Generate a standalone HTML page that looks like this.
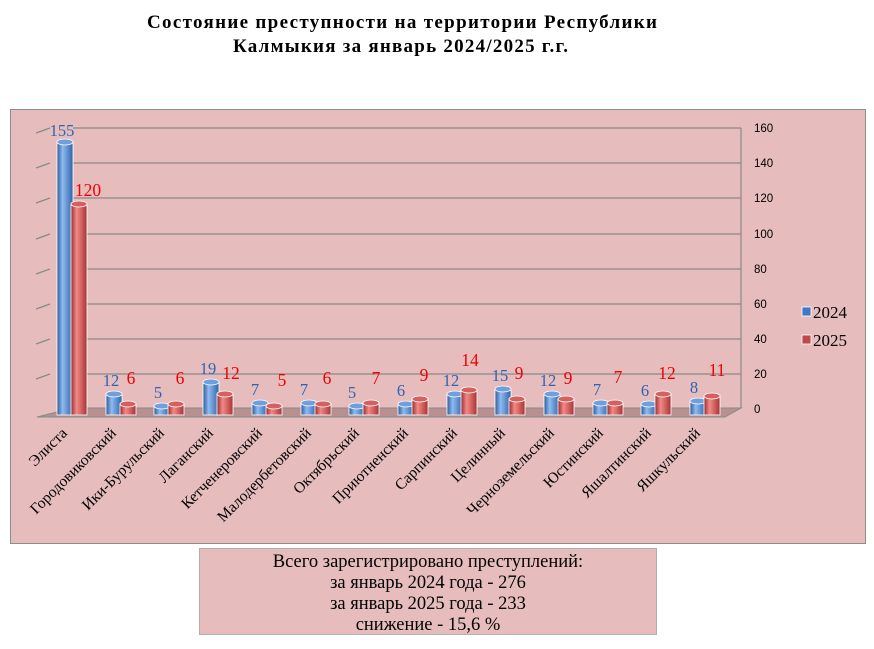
<!DOCTYPE html>
<html><head><meta charset="utf-8"><style>
html,body{margin:0;padding:0;background:#fff;width:874px;height:649px;overflow:hidden}
svg{display:block}
</style></head><body>
<svg width="874" height="649" viewBox="0 0 874 649" xmlns="http://www.w3.org/2000/svg">
<defs>
<linearGradient id="gb" x1="0" x2="1" y1="0" y2="0"><stop offset="0" stop-color="#2c5a98"/><stop offset="0.35" stop-color="#8fbaf0"/><stop offset="1" stop-color="#2f62a8"/></linearGradient>
<linearGradient id="gr" x1="0" x2="1" y1="0" y2="0"><stop offset="0" stop-color="#9a2b2b"/><stop offset="0.35" stop-color="#f28a86"/><stop offset="1" stop-color="#a83434"/></linearGradient>
</defs>
<g font-family="Liberation Serif, serif" font-weight="bold" font-size="19" fill="#000">
<text x="147" y="28" textLength="510" lengthAdjust="spacing">Состояние преступности  на территории   Республики</text>
<text x="233" y="52" textLength="335" lengthAdjust="spacing">Калмыкия  за январь  2024/2025 г.г.</text>
</g>
<rect x="10.5" y="109.5" width="855" height="434" fill="#e6bcbd" stroke="#8c8c8c"/>
<rect x="199.5" y="548.5" width="457" height="86" fill="#e6bcbd" stroke="#b0b0b0"/>
<g stroke="#8a8a8a" stroke-width="1.2" fill="none">
<path d="M73 128H741M73 163H741M73 198H741M73 234H741M73 269H741M73 304H741M73 339H741M73 374H741M741 128V408"/>
<path d="M36 133L50 128M36 168L50 163M36 203L50 198M36 239L50 234M36 274L50 269M36 309L50 304M36 344L50 339M36 379L50 374"/>
</g>
<path d="M73 408H741L725 417H37Z" fill="#b99090" stroke="#8a8a8a"/>
<g font-family="Liberation Sans, sans-serif" font-size="11.5" fill="#000">
<text x="754" y="132">160</text><text x="754" y="167">140</text><text x="754" y="202">120</text><text x="754" y="238">100</text><text x="754" y="273">80</text><text x="754" y="308">60</text><text x="754" y="343">40</text><text x="754" y="378">20</text><text x="754" y="413">0</text>
</g>
<g stroke="#fff" stroke-width="0.8">
<rect x="57" y="142" width="16" height="273" fill="url(#gb)"/><ellipse cx="65" cy="142" rx="8" ry="3" fill="#6f9fdc"/>
<rect x="71" y="204" width="16" height="211" fill="url(#gr)"/><ellipse cx="79" cy="204" rx="8" ry="3" fill="#d46060"/>
<rect x="106" y="394" width="16" height="21" fill="url(#gb)"/><ellipse cx="114" cy="394" rx="8" ry="3" fill="#6f9fdc"/>
<rect x="120" y="404" width="16" height="11" fill="url(#gr)"/><ellipse cx="128" cy="404" rx="8" ry="3" fill="#d46060"/>
<rect x="154" y="406" width="16" height="9" fill="url(#gb)"/><ellipse cx="162" cy="406" rx="8" ry="3" fill="#6f9fdc"/>
<rect x="168" y="404" width="16" height="11" fill="url(#gr)"/><ellipse cx="176" cy="404" rx="8" ry="3" fill="#d46060"/>
<rect x="203" y="382" width="16" height="33" fill="url(#gb)"/><ellipse cx="211" cy="382" rx="8" ry="3" fill="#6f9fdc"/>
<rect x="217" y="394" width="16" height="21" fill="url(#gr)"/><ellipse cx="225" cy="394" rx="8" ry="3" fill="#d46060"/>
<rect x="252" y="403" width="16" height="12" fill="url(#gb)"/><ellipse cx="260" cy="403" rx="8" ry="3" fill="#6f9fdc"/>
<rect x="266" y="406" width="16" height="9" fill="url(#gr)"/><ellipse cx="274" cy="406" rx="8" ry="3" fill="#d46060"/>
<rect x="301" y="403" width="16" height="12" fill="url(#gb)"/><ellipse cx="309" cy="403" rx="8" ry="3" fill="#6f9fdc"/>
<rect x="315" y="404" width="16" height="11" fill="url(#gr)"/><ellipse cx="323" cy="404" rx="8" ry="3" fill="#d46060"/>
<rect x="349" y="406" width="16" height="9" fill="url(#gb)"/><ellipse cx="357" cy="406" rx="8" ry="3" fill="#6f9fdc"/>
<rect x="363" y="403" width="16" height="12" fill="url(#gr)"/><ellipse cx="371" cy="403" rx="8" ry="3" fill="#d46060"/>
<rect x="398" y="404" width="16" height="11" fill="url(#gb)"/><ellipse cx="406" cy="404" rx="8" ry="3" fill="#6f9fdc"/>
<rect x="412" y="399" width="16" height="16" fill="url(#gr)"/><ellipse cx="420" cy="399" rx="8" ry="3" fill="#d46060"/>
<rect x="447" y="394" width="16" height="21" fill="url(#gb)"/><ellipse cx="455" cy="394" rx="8" ry="3" fill="#6f9fdc"/>
<rect x="461" y="390" width="16" height="25" fill="url(#gr)"/><ellipse cx="469" cy="390" rx="8" ry="3" fill="#d46060"/>
<rect x="495" y="389" width="16" height="26" fill="url(#gb)"/><ellipse cx="503" cy="389" rx="8" ry="3" fill="#6f9fdc"/>
<rect x="509" y="399" width="16" height="16" fill="url(#gr)"/><ellipse cx="517" cy="399" rx="8" ry="3" fill="#d46060"/>
<rect x="544" y="394" width="16" height="21" fill="url(#gb)"/><ellipse cx="552" cy="394" rx="8" ry="3" fill="#6f9fdc"/>
<rect x="558" y="399" width="16" height="16" fill="url(#gr)"/><ellipse cx="566" cy="399" rx="8" ry="3" fill="#d46060"/>
<rect x="593" y="403" width="16" height="12" fill="url(#gb)"/><ellipse cx="601" cy="403" rx="8" ry="3" fill="#6f9fdc"/>
<rect x="607" y="403" width="16" height="12" fill="url(#gr)"/><ellipse cx="615" cy="403" rx="8" ry="3" fill="#d46060"/>
<rect x="641" y="404" width="16" height="11" fill="url(#gb)"/><ellipse cx="649" cy="404" rx="8" ry="3" fill="#6f9fdc"/>
<rect x="655" y="394" width="16" height="21" fill="url(#gr)"/><ellipse cx="663" cy="394" rx="8" ry="3" fill="#d46060"/>
<rect x="690" y="401" width="16" height="14" fill="url(#gb)"/><ellipse cx="698" cy="401" rx="8" ry="3" fill="#6f9fdc"/>
<rect x="704" y="396" width="16" height="19" fill="url(#gr)"/><ellipse cx="712" cy="396" rx="8" ry="3" fill="#d46060"/>
</g>
<g font-family="Liberation Serif, serif" font-size="16.5" text-anchor="middle">
<g fill="#2e63b5">
<text x="62" y="136">155</text><text x="111" y="386">12</text><text x="158" y="398">5</text><text x="208" y="374">19</text><text x="255" y="395">7</text><text x="304" y="395">7</text><text x="352" y="398">5</text><text x="401" y="396">6</text><text x="451" y="386">12</text><text x="500" y="381">15</text><text x="548" y="386">12</text><text x="597" y="395">7</text><text x="645" y="396">6</text><text x="694" y="393">8</text>
</g>
<g fill="#f00000" font-size="17.5">
<text x="88" y="196">120</text><text x="131" y="384">6</text><text x="180" y="384">6</text><text x="231" y="379">12</text><text x="282" y="386">5</text><text x="327" y="384">6</text><text x="376" y="384">7</text><text x="424" y="381">9</text><text x="470" y="366">14</text><text x="519" y="379">9</text><text x="568" y="384">9</text><text x="618" y="383">7</text><text x="667" y="379">12</text><text x="717" y="376">11</text>
</g>
</g>
<g font-family="Liberation Serif, serif" font-size="15.5" text-anchor="end" fill="#000">
<text transform="translate(68,434) rotate(-45)">Элиста</text>
<text transform="translate(117,434) rotate(-45)">Городовиковский</text>
<text transform="translate(165,434) rotate(-45)">Ики-Бурульский</text>
<text transform="translate(214,434) rotate(-45)">Лаганский</text>
<text transform="translate(263,434) rotate(-45)">Кетченеровский</text>
<text transform="translate(312,434) rotate(-45)">Малодербетовский</text>
<text transform="translate(360,434) rotate(-45)">Октябрьский</text>
<text transform="translate(409,434) rotate(-45)">Приютненский</text>
<text transform="translate(458,434) rotate(-45)">Сарпинский</text>
<text transform="translate(506,434) rotate(-45)">Целинный</text>
<text transform="translate(555,434) rotate(-45)">Черноземельский</text>
<text transform="translate(604,434) rotate(-45)">Юстинский</text>
<text transform="translate(652,434) rotate(-45)">Яшалтинский</text>
<text transform="translate(701,434) rotate(-45)">Яшкульский</text>
</g>
<rect x="802" y="307" width="9" height="9" fill="#3f78c4" stroke="#fff" stroke-width="0.8"/>
<rect x="802" y="335" width="9" height="9" fill="#c04848" stroke="#fff" stroke-width="0.8"/>
<g font-family="Liberation Serif, serif" font-size="17" fill="#000">
<text x="813" y="318">2024</text><text x="813" y="346">2025</text>
</g>
<g font-family="Liberation Serif, serif" font-size="18.5" text-anchor="middle" fill="#000">
<text x="428" y="567">Всего зарегистрировано преступлений:</text>
<text x="428" y="588">за январь 2024  года - 276</text>
<text x="428" y="609">за январь 2025  года - 233</text>
<text x="428" y="630">снижение - 15,6  %</text>
</g>
</svg>
</body></html>
